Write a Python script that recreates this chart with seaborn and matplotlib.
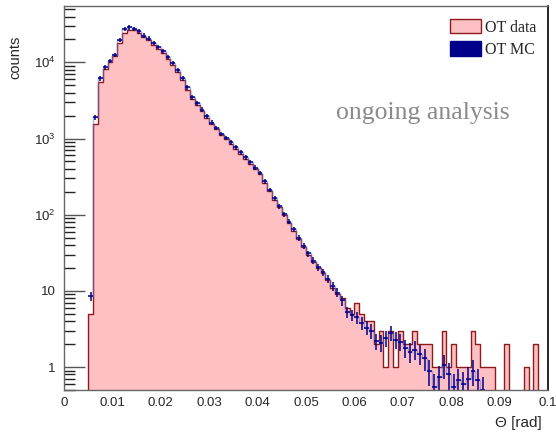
import numpy as np
import pandas as pd
import seaborn as sns
import matplotlib.pyplot as plt
from matplotlib.patches import Patch
from matplotlib.ticker import FixedLocator, FuncFormatter, LogLocator, NullFormatter

# Theta histogram: 95 bins of width 0.001 rad starting at 0.005
bin_lo = 0.005
bin_hi = 0.100
bin_w = 0.001

ot_data = [5, 1550, 5600, 8100, 10000, 12000, 18000, 24500, 27000, 26300,
           24500, 21400, 19500, 17000, 15100, 13200, 11200, 9300, 7400, 5900,
           4400, 3300, 2750, 2300, 1860, 1550, 1320, 1100, 980, 850,
           740, 630, 540, 470, 400, 340, 263, 204, 158, 126,
           98, 78, 62, 48, 38, 30, 24, 20, 17, 14,
           11, 9, 8, 6, 5, 7, 5, 4, 4, 2,
           3, 1, 3, 1, 3, 2, 2, 3, 2, 2,
           2, 1, 1, 3, 1, 2, 1, 1, 1, 3,
           2, 1, 1, 1, 0, 0, 2, 0, 0, 0,
           1, 0, 2, 0, 0]

ot_mc = [8.5, 1900, 6200, 8600, 10500, 12500, 19800, 27500, 29000, 27500,
         25500, 22500, 20500, 18000, 16000, 14000, 11800, 9800, 7900, 6200,
         4700, 3500, 2900, 2400, 1950, 1620, 1380, 1150, 1020, 890,
         770, 660, 565, 490, 415, 355, 275, 212, 165, 130,
         102, 81, 64, 50, 39, 31, 25, 20.5, 17.5, 14.5,
         11.5, 9.5, 7.5, 5.3, 4.8, 4.5, 3.8, 3.3, 3.0, 2.2,
         2.1, 2.4, 2.8, 2.3, 2.15, 1.8, 1.6, 1.7, 1.5, 1.3,
         0.9, 0.55, 0.74, 1.06, 0.8, 0.55, 0.67, 0.6, 0.7, 0.9,
         0.67, 0.5, 0, 0, 0, 0, 0, 0, 0, 0,
         0, 0, 0, 0, 0]

mc_weight = 0.12   # per-event MC weight (statistical part of the error)
mc_syst = 0.07     # relative systematic error on MC

centers = bin_lo + bin_w * (np.arange(len(ot_data)) + 0.5)
df = pd.DataFrame({'theta': centers, 'data': ot_data, 'mc': ot_mc})

sns.set_style('white')
plt.rcParams['font.family'] = ['Liberation Sans', 'DejaVu Sans']
plt.rcParams['mathtext.fontset'] = 'custom'
plt.rcParams['mathtext.rm'] = 'Liberation Sans'

pink = '#ffc0c3'
dark_red = '#8e1b1b'
navy = '#00008b'

fig = plt.figure(figsize=(5.56, 4.34), dpi=100)
ax = fig.add_axes([64 / 556, 1 - 390 / 434, 484 / 556, 384 / 434])

sns.histplot(data=df, x='theta', weights='data', binwidth=bin_w,
             binrange=(bin_lo, bin_hi), element='step',
             fill=True, facecolor=pink, edgecolor=dark_red, alpha=1,
             linewidth=1, ax=ax)

mc = df[df['mc'] > 0]
# faint MC staircase behind the crosses
ax.step(mc['theta'], mc['mc'], where='mid', color='#7070c8', alpha=0.55, lw=1)
mc_err = np.sqrt((mc_syst * mc['mc']) ** 2 + mc['mc'] * mc_weight)
ax.errorbar(mc['theta'], mc['mc'], xerr=bin_w / 2, yerr=mc_err, fmt='none',
            ecolor=navy, elinewidth=1.1)

ax.set_yscale('log')
ax.set_xlim(0, 0.1)
ax.set_ylim(0.5, 55000)
ax.set_xlabel('')
ax.set_ylabel('')

# ROOT-like ticks
ax.xaxis.set_major_locator(FixedLocator(np.arange(0, 0.1001, 0.01)))
ax.xaxis.set_minor_locator(FixedLocator(np.arange(0, 0.1001, 0.002)))
ax.xaxis.set_major_formatter(FuncFormatter(lambda v, p: '0' if v == 0 else ('%.2f' % v if v < 0.0999 else '0.1')))
ax.yaxis.set_major_locator(LogLocator(base=10, numticks=10))
ax.yaxis.set_minor_locator(LogLocator(base=10, subs=np.arange(2, 10), numticks=20))
ax.yaxis.set_minor_formatter(NullFormatter())


def ylab(v, p):
    if v < 5:
        return '1'
    if v < 50:
        return '10'
    return r'$10^{%d}$' % round(np.log10(v))


ax.yaxis.set_major_formatter(FuncFormatter(ylab))
ax.tick_params(axis='x', which='major', direction='in', length=9, width=1,
               color='#222222', labelsize=9.5, pad=5)
ax.tick_params(axis='x', which='minor', direction='in', length=4, width=1,
               color='#222222')
ax.tick_params(axis='y', which='major', direction='in', length=15, width=1,
               color='#555555', labelsize=9.5, pad=6, left=True)
ax.tick_params(axis='y', which='minor', direction='in', length=8, width=1,
               color='#222222', left=True)

for side in ['left', 'bottom', 'top']:
    ax.spines[side].set_color('#666666')
    ax.spines[side].set_linewidth(1)
ax.spines['right'].set_color('black')
ax.spines['right'].set_linewidth(1.2)

fig.text(15 / 556, 1 - 57 / 434, 'counts', rotation=90, ha='center',
         va='center', fontsize=10.5)
fig.text(542 / 556, 1 - 423 / 434, 'Θ [rad]', ha='right', va='center',
         fontsize=11)

handles = [Patch(facecolor=pink, edgecolor=dark_red, label='OT data'),
           Patch(facecolor=navy, edgecolor=navy, label='OT MC')]
ax.legend(handles=handles, loc='upper right', bbox_to_anchor=(1.0, 0.995),
          frameon=False, prop={'family': 'Liberation Serif', 'size': 11.5},
          handlelength=1.9, handleheight=1.0, handletextpad=0.3,
          labelspacing=0.35, borderaxespad=0.3)

ax.text(336 / 556, 1 - 113 / 434, 'ongoing analysis', transform=fig.transFigure,
        ha='left', va='center', fontsize=18.5, color='#8a8a8a',
        family='Liberation Serif')

fig.savefig('out.png', dpi=100)
